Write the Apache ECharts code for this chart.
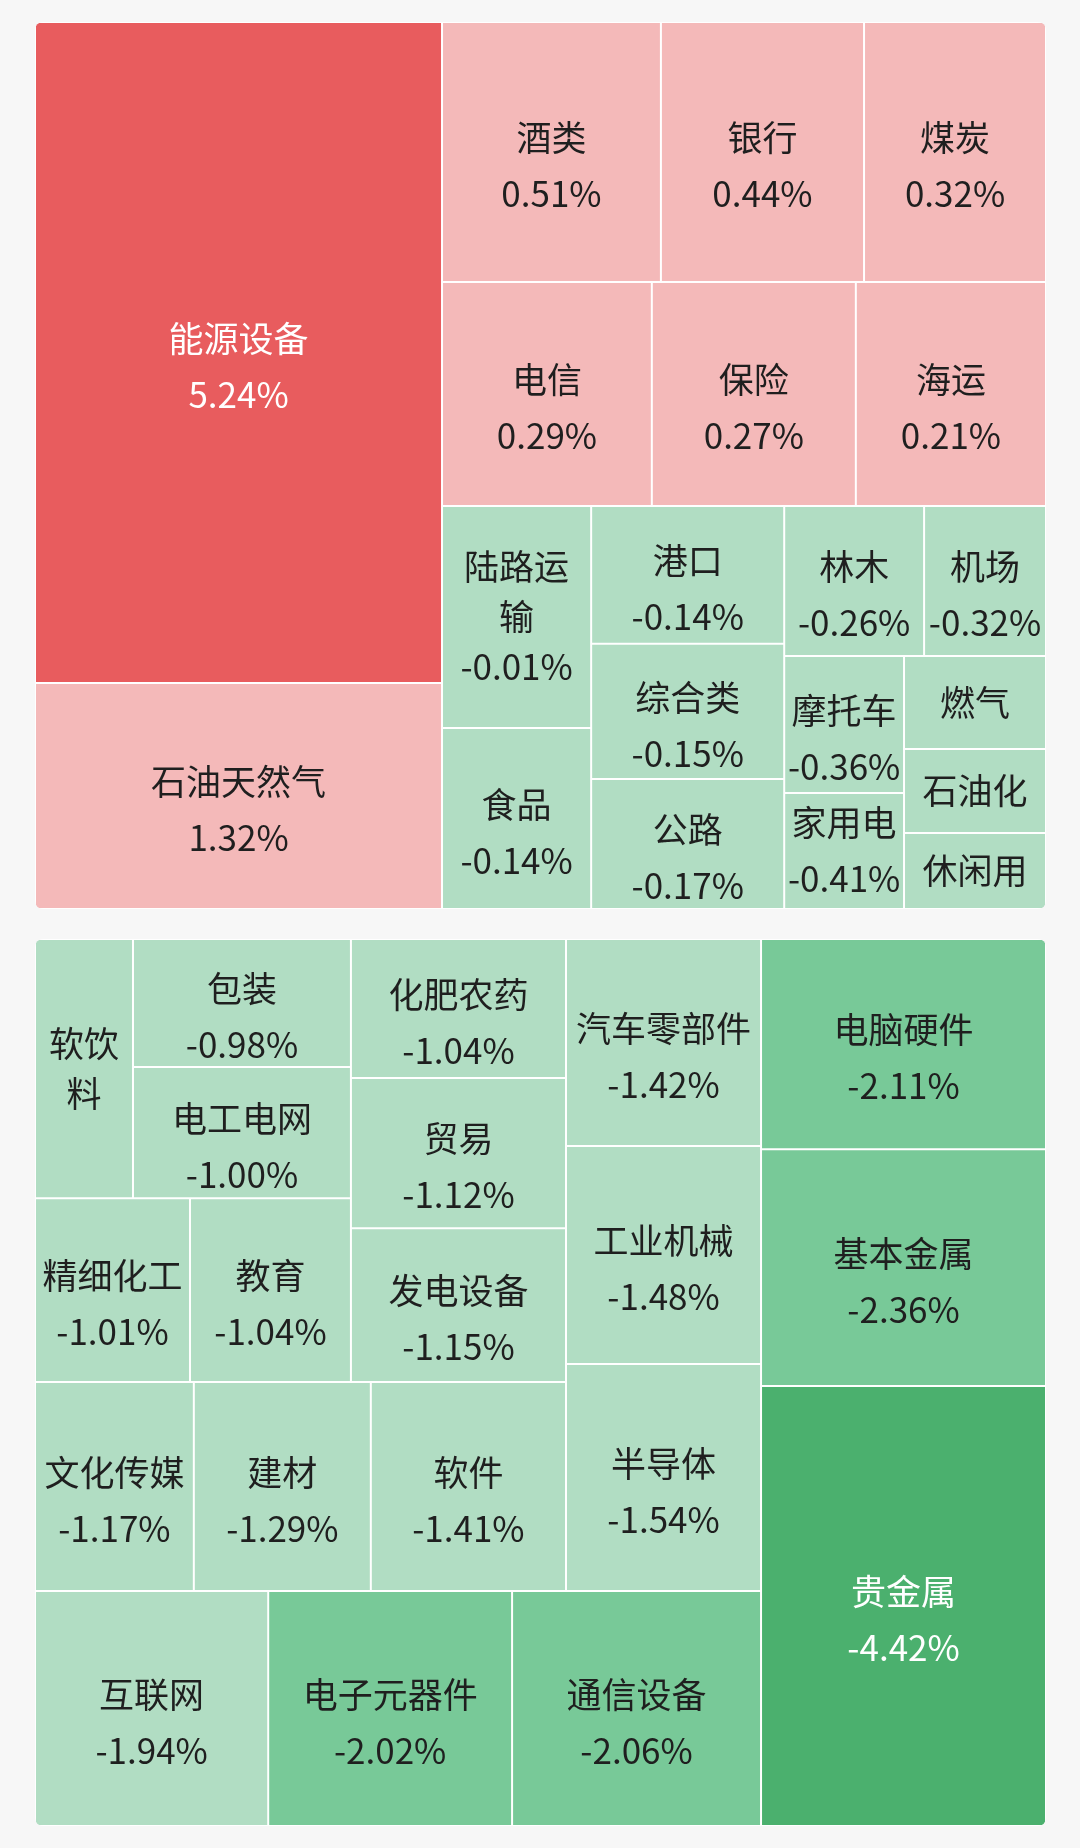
<!DOCTYPE html>
<html lang="zh-CN">
<head>
<meta charset="utf-8">
<title>行业涨跌分布</title>
<script src="https://cdn.jsdelivr.net/npm/echarts@6/dist/echarts.min.js"></script>
<style>
  html, body {
    margin: 0;
    padding: 0;
    background: #f7f7f7;
  }
  .panel {
    position: absolute;
    left: 35px;
    width: 1011px;
    height: 887px;
    border-radius: 8px;
    overflow: hidden;
  }
  #gainers { top: 22px; }
  #losers { top: 939px; }
</style>
</head>
<body>
<div id="gainers" class="panel"></div>
<div id="losers" class="panel"></div>
<script>
// 上半块：上涨及小幅下跌的行业（size 为格子面积，千像素）
const topNames = ['能源设备', '石油天然气', '酒类', '银行', '煤炭', '电信', '保险', '海运',
  '陆路运输', '食品', '港口', '综合类', '公路', '林木', '机场', '摩托车', '家用电器',
  '燃气', '石油化工', '休闲用品']
const topChanges = [5.24, 1.32, 0.51, 0.44, 0.32, 0.29, 0.27, 0.21,
  -0.01, -0.14, -0.14, -0.15, -0.17, -0.26, -0.32, -0.36, -0.41,
  -0.43, -0.45, -0.48]
const topSizes = [269.0, 92.0, 56.9, 52.8, 47.3, 47.0, 45.7, 42.6,
  33.1, 27.0, 26.6, 26.1, 25.1, 21.0, 18.3, 16.4, 13.9,
  13.2, 11.9, 10.8]

// 下半块：跌幅较大的行业，按条带从外侧（右/下）往里排
const bottomNames = ['电脑硬件', '基本金属', '贵金属',
  '互联网', '电子元器件', '通信设备',
  '汽车零部件', '工业机械', '半导体',
  '文化传媒', '建材', '软件',
  '化肥农药', '贸易', '发电设备',
  '精细化工', '教育',
  '包装', '电工电网',
  '软饮料']
const bottomChanges = [-2.11, -2.36, -4.42,
  -1.94, -2.02, -2.06,
  -1.42, -1.48, -1.54,
  -1.17, -1.29, -1.41,
  -1.04, -1.12, -1.15,
  -1.01, -1.04,
  -0.98, -1.00,
  -0.89]
const bottomSizes = [59.9, 67.5, 125.4,
  54.8, 57.3, 58.5,
  40.4, 42.5, 44.3,
  33.2, 37.0, 40.8,
  29.9, 32.3, 33.1,
  28.5, 29.6,
  27.9, 28.6,
  25.4]
const bottomStrips = [3, 3, 3, 3, 3, 2, 2, 1]

// 名字一行放不下但格子够高的换行
const wrapNames = ['陆路运输', '软饮料']
// 格子太小，只显示名字
const nameOnly = ['软饮料', '燃气', '石油化工', '休闲用品']
// 格子偏矮或换了行的，文字直接居中不下移
const centeredNames = ['陆路运输', '软饮料', '家用电器', '燃气', '石油化工', '休闲用品']

function cellColor(v) {
  if (v >= 4) return '#e85c5e'
  if (v >= 2) return '#ee8a8b'
  if (v >= 0) return '#f4b9b9'
  if (v > -2) return '#b1ddc3'
  if (v > -4) return '#78c998'
  return '#4bb06e'
}

function leaf(name, change, size) {
  const item = {
    name,
    value: size,
    change,
    itemStyle: { color: cellColor(change), borderColor: '#fff', borderWidth: 1 },
    label: { color: Math.abs(change) >= 4 ? '#fff' : '#1f1f1f' }
  }
  if (wrapNames.includes(name)) {
    Object.assign(item.label, { overflow: 'break', padding: [0, 8], lineHeight: 50 })
  }
  if (nameOnly.includes(name)) {
    item.label.formatter = '{b}'
  }
  if (centeredNames.includes(name)) {
    item.label.offset = [0, 0]
  }
  return item
}

function buildLosers() {
  const strips = []
  let k = 0
  bottomStrips.forEach(n => {
    strips.push(bottomNames.slice(k, k + n).map((name, i) =>
      leaf(name, bottomChanges[k + i], bottomSizes[k + i])))
    k += n
  })
  // 从最里层往外套：每层 = [剩余部分, 外侧条带]
  let node = { children: strips[strips.length - 1] }
  for (let s = strips.length - 2; s >= 0; s--) {
    node = { children: [node, { children: strips[s] }] }
  }
  return node.children
}

function treemapSeries(data, sort) {
  return {
    type: 'treemap',
    left: 0,
    top: 0,
    width: '100%',
    height: '100%',
    roam: false,
    nodeClick: false,
    sort,
    squareRatio: 1,
    breadcrumb: { show: false },
    itemStyle: { borderWidth: 0, gapWidth: 0 },
    label: {
      show: true,
      position: 'inside',
      align: 'center',
      verticalAlign: 'middle',
      fontFamily: 'Noto Sans CJK SC',
      fontSize: 35,
      lineHeight: 56,
      padding: [0, 2],
      offset: [0, 14],
      overflow: 'truncate',
      ellipsis: '',
      color: '#1f1f1f',
      formatter: p => p.name + '\n' + p.data.change.toFixed(2) + '%'
    },
    emphasis: { disabled: true },
    data
  }
}

const topData = topNames.map((name, i) => leaf(name, topChanges[i], topSizes[i]))

const gainers = echarts.init(document.getElementById('gainers'), null, { renderer: 'canvas' })
gainers.setOption({ animation: false, series: [treemapSeries(topData, 'desc')] })

const losers = echarts.init(document.getElementById('losers'), null, { renderer: 'canvas' })
losers.setOption({ animation: false, series: [treemapSeries(buildLosers(), false)] })
</script>
</body>
</html>
